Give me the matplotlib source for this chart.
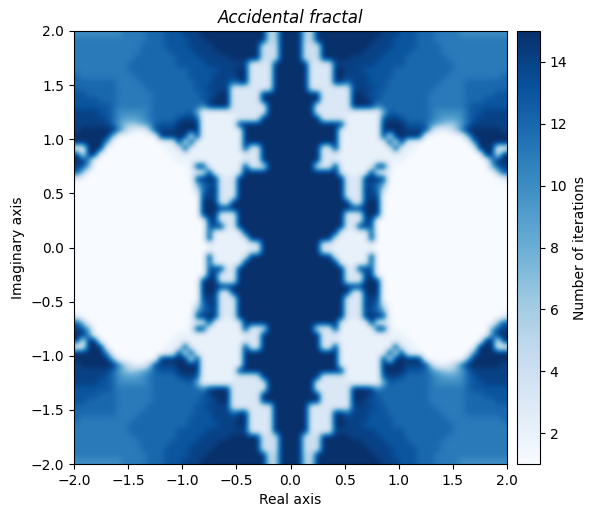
import numpy as np
import matplotlib
matplotlib.use("Agg")
import matplotlib.pyplot as plt

# Iteration counts read by eye for the upper-right quadrant (x 0..2, y 2..0), hex digits 1..f
quadrant_rows = [
 "ff55"+"f"*11+"eee"+"ddd"+"ccc"+"bbbb"+"a"*8,
 "ff55"+"f"*10+"eee"+"dddd"+"ccc"+"b"*12,
 "ff444"+"f"*8+"eeee"+"dddd"+"cccc"+"b"*11,
 "ff444"+"f"*7+"eeee"+"dddd"+"ccccc"+"b"*11,
 "ff444"+"f"*5+"e"*5+"dddd"+"c"*7+"b"*10,
 "fff3333"+"e"*7+"d"*5+"c"*8+"b"*9,
 "fff3333"+"ff"+"eee"+"d"*5+"c"*10+"b"*9,
 "fff3333"+"ff"+"eeee"+"dddd"+"c"*9+"b"*9+"c",
 "fff3333"+"f"+"e"+"c"+"eee"+"ddd"+"c"*9+"bbbb"+"c"*7,
 "fff"+"3"*7+"eeee"+"dd"+"c"*8+"b"*5+"c"*7,
 "fffff"+"33333"+"ff"+"e"+"dd"+"c"*8+"b"*6+"c"*5+"dd",
 "fffff"+"33333"+"fff"+"e"+"d"+"c"*8+"b"*6+"ccc"+"dddd",
 "ffff3"+"33333"+"fff"+"e"+"a"+"c"+"c"*7+"b"*6+"c"+"d"*6,
 "ffff3"+"33333"+"2"*5+"8"+"d"+"c"*6+"b"+"a"*5+"c"+"dd"+"eeee",
 "fffff"+"3333"+"2"*6+"d"+"ee"+"d"+"cccc"+"b"+"a"+"999"+"a"+"c"+"d"+"eeeee",
 "fffff"+"ffff"+"2"*6+"ffff"+"dddc"+"a"+"8"+"7"+"6"+"7"+"9"+"c"+"e"+"eeeee",
 "f"*8+"2"*7+"ffff"+"eeee"+"5"+"22"+"3"+"6"+"b"+"f"*6+"e",
 "f"*8+"2"*7+"f"+"2"+"f"+"fff"+"f"+"1"*7+"8"+"f"*6,
 "f"*8+"2"*8+"f"+"2"+"f"+"22"+"1"*9+"a"+"f"*5,
 "fffff"+"33"+"f"+"2"*9+"f"+"222"+"1"*10+"ff"+"f22",
 "fffff"+"333"+"2"*12+"1"*12+"ff"+"3"+"f",
 "fffff"+"333"+"2"*11+"1"*14+"a"+"ff",
 "ffff3"+"33"+"f"+"2"*6+"ff"+"2"+"1"*16+"8"+"d"+"e",
 "f"*8+"3"+"2222"+"f"+"222"+"1"*17+"7"+"d",
 "f"*9+"333"+"fff"+"e"+"1"*19+"3",
 "f"*9+"333"+"e"+"d"+"c"+"8"+"1"*20,
 "f"*9+"333"+"f"+"e"+"c"+"4"+"1"*20,
 "f"*8+"f333"+"eee"+"1"*21,
 "f"*9+"f33"+"fff"+"1"*21,
 "f"*15+"1"*21,
 "f"*9+"3"*3+"f"*3+"1"*21,
 "f"*9+"333"+"ee"+"1"*22,
 "f"*9+"33"+"f"+"e"+"d"+"1"*22,
 "f"*8+"2"*5+"d"+"1"*22,
 "f"*6+"f3"+"2"*5+"f"+"1"*22,
 "f"*4+"f33"+"2"*7+"1"*22,
]
x_ticks = [-2.0, -1.5, -1.0, -0.5, 0.0, 0.5, 1.0, 1.5, 2.0]
y_ticks = x_ticks
cbar_ticks = [2, 4, 6, 8, 10, 12, 14]

quad = np.array([[int(ch, 16) for ch in row] for row in quadrant_rows], dtype=float)
top = np.hstack([quad[:, ::-1], quad])
grid = np.vstack([top, top[::-1, :]])

fig = plt.figure(figsize=(5.96, 5.18), dpi=100)
ax = fig.add_axes([74/596, 1-464/518, 433/596, 433/518])
im = ax.imshow(grid, cmap="Blues", vmin=1, vmax=15, extent=[-2, 2, -2, 2],
               origin="upper", interpolation="bicubic", aspect="auto")
ax.set_xticks(x_ticks)
ax.set_yticks(y_ticks)
ax.tick_params(labelsize=10)
ax.set_xlabel("Real axis", fontsize=10)
ax.set_ylabel("Imaginary axis", fontsize=10)
ax.set_title("Accidental fractal", fontsize=12, style="italic", pad=6)
cax = fig.add_axes([517/596, 1-464/518, 23/596, 433/518])
cb = fig.colorbar(im, cax=cax)
cb.set_ticks(cbar_ticks)
cb.set_label("Number of iterations", fontsize=10)
fig.savefig("out.png", dpi=100)
